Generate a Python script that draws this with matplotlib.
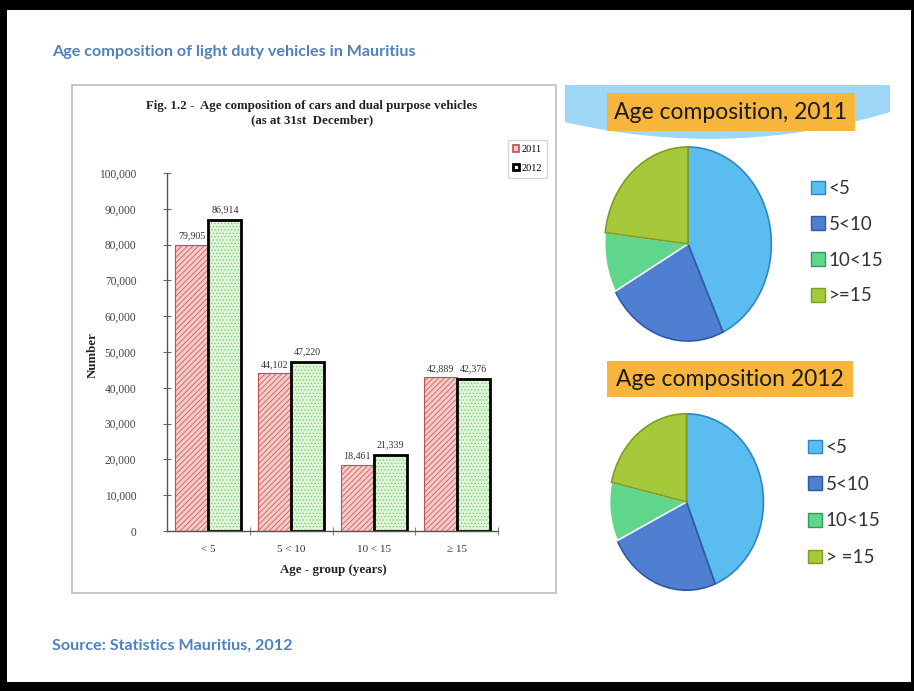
import numpy as np
import matplotlib
matplotlib.use('Agg')
import matplotlib.pyplot as plt
from matplotlib.patches import Rectangle, Polygon, Patch

W, H = 914, 691

# data
age_groups = ['< 5', '5 < 10', '10 < 15', '\u2265 15']
years = ['2011', '2012']
vehicles_2011 = [79905, 44102, 18461, 42889]
vehicles_2012 = [86914, 47220, 21339, 42376]
y_ticks = [0, 10000, 20000, 30000, 40000, 50000, 60000, 70000, 80000, 90000, 100000]
pie_labels_2011 = ['<5', '5<10', '10<15', '>=15']
pie_labels_2012 = ['<5', '5<10', '10<15', '> =15']

pie_colors = ['#5bbcf0', '#4f7fd0', '#5fd68c', '#a6c93c']
pie_edges = ['#2f86c4', '#2f5aa3', '#ffffff', '#7f9d22']

SERIF = ['Liberation Serif', 'DejaVu Serif']
SANS = ['Lato', 'Open Sans', 'DejaVu Sans']
BLUE_TXT = '#4f81bd'


def px_rect(x0, y0, x1, y1):
    """pixel box -> figure fraction rect"""
    return [x0 / W, 1 - y1 / H, (x1 - x0) / W, (y1 - y0) / H]


fig = plt.figure(figsize=(W / 100, H / 100), dpi=100)
fig.patch.set_facecolor('black')

# background / decorations in pixel coordinates
bg = fig.add_axes([0, 0, 1, 1])
bg.set_xlim(0, W)
bg.set_ylim(H, 0)
bg.axis('off')
bg.add_patch(Rectangle((7, 10), 904, 672, facecolor='white', edgecolor='none'))
bg.add_patch(Rectangle((72, 85), 484, 508, facecolor='white', edgecolor='#bdbdbd', lw=1.2))

# blue ribbon behind the 2011 heading
t = np.linspace(0, 1, 40)
bx = (1 - t) ** 2 * 890 + 2 * (1 - t) * t * 730 + t ** 2 * 565
by = (1 - t) ** 2 * 112 + 2 * (1 - t) * t * 160 + t ** 2 * 122
ribbon = np.vstack([[565, 85], [890, 85], np.column_stack([bx, by])])
bg.add_patch(Polygon(ribbon, closed=True, facecolor='#9dd6f6', edgecolor='none'))

# orange heading boxes
bg.add_patch(Rectangle((607, 93), 248, 38, facecolor='#f7b53b', edgecolor='none'))
bg.add_patch(Rectangle((607, 361), 246, 36, facecolor='#f7b53b', edgecolor='none'))
bg.text(731, 112, 'Age composition, 2011', ha='center', va='center',
        fontsize=16.5, family=SANS, color='#1a1a1a')
bg.text(730, 379, 'Age composition 2012', ha='center', va='center',
        fontsize=16.5, family=SANS, color='#1a1a1a')

bg.text(52, 52, 'Age composition of light duty vehicles in Mauritius', ha='left', va='center',
        fontsize=11.6, family=SANS, fontweight='bold', color=BLUE_TXT)
bg.text(52, 646, 'Source: Statistics Mauritius, 2012', ha='left', va='center',
        fontsize=11.6, family=SANS, fontweight='bold', color=BLUE_TXT)

bg.text(312, 113, 'Fig. 1.2 -  Age composition of cars and dual purpose vehicles\n(as at 31st  December)',
        ha='center', va='center', fontsize=9.3, family=SERIF, fontweight='bold',
        linespacing=1.2, color='#222222')
bg.text(93, 355, 'Number', rotation=90, ha='center', va='center',
        fontsize=9.3, family=SERIF, fontweight='bold', color='#222222')
bg.text(333, 570, 'Age - group (years)', ha='center', va='center',
        fontsize=9.3, family=SERIF, fontweight='bold', color='#222222')

# bar chart
plt.rcParams['hatch.linewidth'] = 0.5
ax = fig.add_axes(px_rect(167, 173, 498, 531))
ax.patch.set_alpha(0)
x = np.arange(len(age_groups))
bw = 0.4
b1 = ax.bar(x - bw / 2, vehicles_2011, bw, color='#f6c9c9', edgecolor='#c0504d',
            hatch='//////', lw=0.8)
ax.bar(x + bw / 2, vehicles_2012, bw, color='#dcf6d6', edgecolor='#7cc47a',
       hatch='.....', lw=0)
b2 = ax.bar(x + bw / 2, vehicles_2012, bw, fill=False, edgecolor='black', lw=2)

ax.bar_label(b1, labels=[f'{v:,}' for v in vehicles_2011], padding=3,
             fontsize=7.2, family=SERIF, color='#333333')
ax.bar_label(b2, labels=[f'{v:,}' for v in vehicles_2012], padding=4,
             fontsize=7.2, family=SERIF, color='#333333')

ax.set_xlim(-0.5, len(age_groups) - 0.5)
ax.set_ylim(0, 100000)
ax.set_yticks(y_ticks)
ax.set_yticklabels([f'{v:,}' for v in y_ticks], family=SERIF, fontsize=8.3, color='#444444')
ax.set_xticks(x)
ax.set_xticklabels(age_groups, family=SERIF, fontsize=8, color='#333333')
ax.set_xticks(np.arange(len(age_groups)) + 0.5, minor=True)
ax.tick_params(axis='x', which='major', length=0, pad=10)
ax.tick_params(axis='x', which='minor', direction='inout', length=6, color='#666666')
ax.tick_params(axis='y', direction='inout', length=6, pad=19, color='#666666')
for s in ['top', 'right']:
    ax.spines[s].set_visible(False)
for s in ['left', 'bottom']:
    ax.spines[s].set_color('#555555')
    ax.spines[s].set_linewidth(1.0)

leg_handles = [Patch(facecolor='#f6c9c9', edgecolor='#c0504d', lw=1.2, label=years[0]),
               Patch(facecolor='white', edgecolor='black', lw=2, label=years[1])]
fig.legend(handles=leg_handles, loc='upper left',
           bbox_to_anchor=(508 / W, 1 - 140 / H), prop={'family': SERIF, 'size': 7.5},
           frameon=True, fancybox=False, edgecolor='#cccccc', handlelength=0.6,
           handleheight=0.6, handletextpad=0.2, borderpad=0.5, labelspacing=0.9,
           borderaxespad=0)


def draw_pie(rect, values, labels, leg_xy, spacing):
    pax = fig.add_axes(rect)
    wedges, _ = pax.pie(values, startangle=90, counterclock=False, colors=pie_colors,
                        wedgeprops={'linewidth': 1.2})
    for w, ec in zip(wedges, pie_edges):
        w.set_edgecolor(ec)
    pax.set_aspect('auto')
    pax.set_xlim(-1.02, 1.02)
    pax.set_ylim(-1.02, 1.02)
    handles = [Patch(facecolor=c, edgecolor=e if e != '#ffffff' else '#2f9a5a', lw=1, label=l)
               for c, e, l in zip(pie_colors, pie_edges, labels)]
    fig.legend(handles=handles, loc='upper left',
               bbox_to_anchor=(leg_xy[0] / W, 1 - leg_xy[1] / H),
               prop={'family': SANS, 'size': 13.5}, frameon=False, handlelength=0.75,
               handleheight=0.75, handletextpad=0.2, borderpad=0, borderaxespad=0,
               labelspacing=spacing, labelcolor='#333333')


draw_pie(px_rect(603, 145, 773, 343), vehicles_2011, pie_labels_2011, (811, 180), 1.0)
draw_pie(px_rect(608, 412, 765, 592), vehicles_2012, pie_labels_2012, (808, 439), 1.05)

fig.savefig('out.png', dpi=100, facecolor=fig.get_facecolor())
